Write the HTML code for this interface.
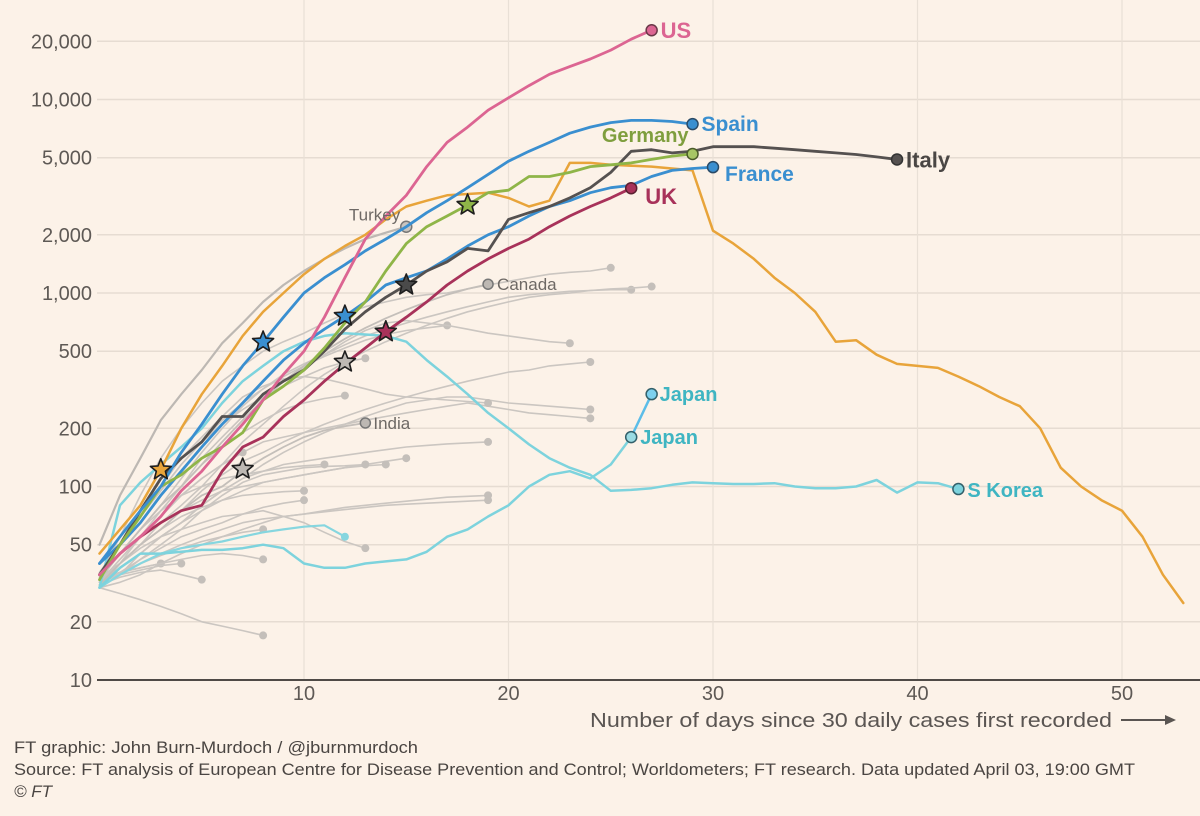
<!DOCTYPE html>
<html><head><meta charset="utf-8">
<style>
html,body{margin:0;padding:0;background:#fcf2e8;}
svg{display:block;font-family:"Liberation Sans",sans-serif;}
</style></head>
<body>
<svg id="chart" width="1200" height="816" viewBox="0 0 1200 816">
<rect x="0" y="0" width="1200" height="816" fill="#fcf2e8"/>
<g id="grid"></g>
<g id="gray"></g>
<g id="main"></g>
<g id="stars"></g>
<g id="labels"></g>
<g id="axes"></g>
<text x="590" y="727" font-size="20" fill="#5a5552" textLength="522" lengthAdjust="spacingAndGlyphs">Number of days since 30 daily cases first recorded</text>
<line x1="1121" y1="720" x2="1165" y2="720" stroke="#5a5552" stroke-width="2"/>
<polygon points="1165,715 1176,720 1165,725" fill="#5a5552"/>
<text x="14" y="753" font-size="17" fill="#4a4542" textLength="404" lengthAdjust="spacingAndGlyphs">FT graphic: John Burn-Murdoch / @jburnmurdoch</text>
<text x="14" y="775" font-size="17" fill="#4a4542" textLength="1121" lengthAdjust="spacingAndGlyphs">Source: FT analysis of European Centre for Disease Prevention and Control; Worldometers; FT research. Data updated April 03, 19:00 GMT</text>
<text x="14" y="797" font-size="17" font-style="italic" fill="#4a4542">© FT</text>
</svg>
<script>
const xTicks = [10,20,30,40,50];
const yTicks = [10,20,50,100,200,500,1000,2000,5000,10000,20000];
const yTickLabels = ["10","20","50","100","200","500","1,000","2,000","5,000","10,000","20,000"];

const us = [35,45,55,70,95,120,160,210,280,380,500,750,1200,1900,2500,3200,4500,6000,7200,8800,10200,11800,13500,14800,16200,18000,20500,22800];
const spain = [40,55,75,100,150,210,300,420,558,750,1000,1200,1400,1650,1900,2200,2600,3000,3500,4100,4800,5400,6000,6700,7200,7600,7800,7800,7700,7460];
const italy = [35,50,75,110,140,170,230,230,300,350,400,500,650,800,950,1100,1300,1450,1700,1650,2400,2600,2800,3100,3500,4200,5400,5500,5300,5400,5700,5700,5700,5600,5500,5400,5300,5200,5050,4900];
const germany = [33,50,70,100,115,140,160,190,280,330,400,520,700,900,1300,1800,2200,2500,2850,3300,3400,4000,4000,4200,4500,4600,4700,4900,5100,5230];
const france = [40,50,65,90,120,160,210,270,350,450,550,650,760,900,1100,1200,1300,1500,1750,2000,2200,2500,2800,3000,3300,3500,3600,4000,4300,4400,4470];
const uk = [35,45,55,65,75,80,120,160,180,230,280,350,430,520,630,750,900,1100,1300,1500,1700,1900,2200,2500,2800,3100,3480];
const china = [45,60,80,122,200,300,420,600,800,1000,1250,1500,1750,2000,2400,2800,3000,3200,3250,3300,3100,2800,3000,4700,4700,4600,4550,4500,4400,4300,2100,1800,1500,1200,1000,800,560,570,480,430,420,410,370,330,290,260,200,125,100,85,75,55,35,25];
const skorea = [30,80,105,130,160,200,270,350,420,500,560,600,620,610,600,560,450,370,300,240,200,165,140,125,115,95,96,98,102,105,104,103,103,104,100,98,98,100,108,93,105,104,97];
const japan = [30,38,45,45,46,47,47,48,50,48,40,38,38,40,41,42,46,55,60,70,80,100,115,120,110,130,180];
const japanNew = [180,300];
const singapore = [30,35,40,45,48,50,52,55,58,60,62,63,55];
const turkey = [50,90,140,220,300,400,550,700,900,1100,1300,1500,1700,1900,2050,2200];
const grayLabels = ["Canada","India"];
const canada = [33,45,60,80,100,130,170,220,280,350,420,500,580,660,740,820,900,980,1050,1110];
const india = [31,40,50,60,75,90,100,120,140,160,180,195,205,213];
const others = [
 [35,55,90,140,200,270,350,420,500,560,620,700,780,850,900,950,980,1000,1050,1100,1150,1200,1250,1280,1300,1350],
 [32,40,55,75,100,140,180,230,290,350,410,480,540,600,650,700,750,800,850,900,950,980,1000,1020,1030,1040,1040],
 [30,40,50,65,80,100,130,170,210,260,320,380,440,500,560,620,680,740,800,850,900,950,980,1000,1030,1050,1060,1080],
 [36,50,70,95,130,170,220,270,320,370,420,470,520,570,610,640,660,680],
 [34,45,60,80,110,150,200,260,320,380,430,480,560,640,700,720,700,680,650,620,600,580,560,550],
 [33,40,50,60,75,95,115,135,150,170,190,210,230,250,270,290,310,330,350,370,390,400,420,430,440],
 [30,38,45,55,65,80,95,110,130,150,170,190,210,230,250,270,280,290,290,280,270,265,260,255,250],
 [32,42,55,70,90,110,130,150,170,180,190,200,210,220,230,240,250,260,270,260,250,240,235,230,225],
 [30,35,45,55,65,80,95,110,120,130,135,140,145,150,155,160,163,166,168,170],
 [35,50,70,100,140,180,230,290,330,360,370,360,340,320,300,290,285,280,275,270],
 [30,32,35,40,45,50,55,60,65,70,72,75,78,80,82,84,86,88,89,90],
 [33,36,40,45,50,55,60,65,68,70,72,74,76,78,80,81,82,83,84,85],
 [34,45,55,65,75,85,95,100,105,110,115,120,125,130,135,140],
 [32,38,45,55,65,75,85,95,105,110,115,120,125,128,130],
 [30,35,42,50,60,75,90,105,115,120,125,127,128,130],
 [35,45,60,75,90,100,110,115,120,125,128,130],
 [33,45,60,80,100,130,160,190,220,250,270,285,295],
 [30,40,50,60,70,78,85,90,92,94,95],
 [31,36,42,48,55,60,65,72,78,82,85],
 [30,35,40,44,48,52,55,58,60],
 [34,40,48,55,60,65,70,72,75,70,65,58,52,48],
 [33,36,38,40],
 [32,35,37,39,40],
 [31,34,36,37,35,33],
 [33,36,38,40,42,44,45,44,42],
 [30,28,26,24,22,20,19,18,17],
 [35,50,70,95,130,170,210,250,290,330,370,410,440,460],
 [32,42,55,70,90,110,130,150]
];
const starDays = [3,8,12,15,18,14,12,7];
const starValues = [122,558,760,1100,2850,630,440,123];
const starColors = ["#e8a43a","#3a8fd0","#3a8fd0","#4a4a4a","#8fb548","#a8325a","#bdb8b3","#bdb8b3"];

const NS = "http://www.w3.org/2000/svg";
function xs(d){ return 99.5 + 20.45*d; }
function ys(v){ return 680 - 193.5*Math.log10(v/10); }
function mk(tag, attrs, parent){
  const e = document.createElementNS(NS, tag);
  for (const k in attrs) e.setAttribute(k, attrs[k]);
  parent.appendChild(e); return e;
}
const grid = document.getElementById('grid');
const axes = document.getElementById('axes');
yTicks.forEach((t,i)=>{
  if (i>0){
    const l = mk('line',{x1:97,x2:1200,y1:ys(t),y2:ys(t),stroke:'#e6dcd2','stroke-width':1.5},grid);
    
    
  }
  const tx = mk('text',{x:92,y:ys(t)+7,'text-anchor':'end','font-size':20,fill:'#5e5955'},axes);
  tx.textContent = yTickLabels[i];
  
  
});
xTicks.forEach(t=>{
  const l = mk('line',{x1:xs(t),x2:xs(t),y1:0,y2:680,stroke:'#e9e0d6','stroke-width':1.2},grid);
  
  
  const tx = mk('text',{x:xs(t),y:700,'text-anchor':'middle','font-size':20,fill:'#5e5955'},axes);
  tx.textContent = t;
  
  
});
const ax = mk('line',{x1:97,x2:1200,y1:680,y2:680,stroke:'#4f4a46','stroke-width':2},axes);



function pts(arr, start){ return arr.map((v,i)=>xs(i+start).toFixed(1)+','+ys(v).toFixed(1)).join(' '); }
function drawLine(parent, arr, color, width, name, start){
  start = start||0;
  const p = mk('polyline',{points:pts(arr,start),fill:'none',stroke:color,'stroke-width':width,'stroke-linejoin':'round','stroke-linecap':'round'},parent);
  
  
  return p;
}
function drawDot(parent, d, v, color, r, stroke, name){
  const c = mk('circle',{cx:xs(d),cy:ys(v),r:r,fill:color,stroke:stroke,'stroke-width':1.5},parent);
  
  
  return c;
}
const gray = document.getElementById('gray');
others.forEach(arr=>{
  drawLine(gray, arr, '#cbc6c1', 1.6, 'other-country-line');
  drawDot(gray, arr.length-1, arr[arr.length-1], '#c4bfba', 4, 'none', 'other-country-end');
});
drawLine(gray, canada, '#c4bfba', 1.8, 'canada-line');
drawDot(gray, canada.length-1, canada[canada.length-1], '#bdb8b3', 5, '#777', 'canada-end');
drawLine(gray, india, '#c4bfba', 1.8, 'india-line');
drawDot(gray, india.length-1, india[india.length-1], '#bdb8b3', 5, '#777', 'india-end');
drawLine(gray, turkey, '#bdb8b3', 2.2, 'turkey-line');
drawDot(gray, turkey.length-1, turkey[turkey.length-1], '#c9c4bf', 5.5, '#777', 'turkey-end');

const main = document.getElementById('main');
drawLine(main, singapore, '#86d6df', 2.2, 'singapore-line');
drawDot(main, singapore.length-1, singapore[singapore.length-1], '#86d6df', 4, 'none', 'singapore-end');
drawLine(main, japan, '#7dd3dd', 2.5, 'japan-line');
drawLine(main, japanNew, '#5cbde8', 2.5, 'japan-new-line', 26);
drawLine(main, skorea, '#7dd3dd', 2.5, 'south-korea-line');
drawLine(main, china, '#e8a43a', 2.5, 'china-line');
drawLine(main, uk, '#a8325a', 2.8, 'uk-line');
drawLine(main, france, '#3a8fd0', 2.8, 'france-line');
drawLine(main, italy, '#555150', 2.8, 'italy-line');
drawLine(main, germany, '#8fb548', 2.8, 'germany-line');
drawLine(main, spain, '#3a8fd0', 2.8, 'spain-line');
drawLine(main, us, '#dc6592', 2.8, 'us-line');

drawDot(main, us.length-1, us[us.length-1], '#dc6592', 5.5, '#6a3848', 'us-end');
drawDot(main, spain.length-1, spain[spain.length-1], '#3a8fd0', 5.5, '#2a4a66', 'spain-end');
drawDot(main, germany.length-1, germany[germany.length-1], '#a7c665', 5.5, '#4a5a2a', 'germany-end');
drawDot(main, italy.length-1, italy[italy.length-1], '#555150', 5.5, '#333', 'italy-end');
drawDot(main, france.length-1, france[france.length-1], '#3a8fd0', 5.5, '#2a4a66', 'france-end');
drawDot(main, uk.length-1, uk[uk.length-1], '#a8325a', 5.5, '#5a2030', 'uk-end');
drawDot(main, 27, japanNew[1], '#7dd0ee', 5.5, '#33606a', 'japan-new-end');
drawDot(main, japan.length-1, japan[japan.length-1], '#9adbe3', 5.5, '#33606a', 'japan-end');
drawDot(main, skorea.length-1, skorea[skorea.length-1], '#7dd3dd', 5.5, '#33606a', 'south-korea-end');

const stars = document.getElementById('stars');
function starPts(cx,cy,R,r){
  const a=[]; for(let i=0;i<10;i++){const rad=i%2?r:R; const ang=-Math.PI/2+i*Math.PI/5; a.push((cx+rad*Math.cos(ang)).toFixed(1)+','+(cy+rad*Math.sin(ang)).toFixed(1));} return a.join(' ');
}
starDays.forEach((d,i)=>{
  const s = mk('polygon',{points:starPts(xs(d),ys(starValues[i]),11,4.8),fill:starColors[i],stroke:'#1e1e1e','stroke-width':1.6,'stroke-linejoin':'round'},stars);
  
  
});

const labels = document.getElementById('labels');
function label(txt, d, v, dx, dy, color, size, weight, name, anchor){
  const t = mk('text',{x:xs(d)+dx,y:ys(v)+dy,fill:color,'font-size':size,'font-weight':weight,'text-anchor':anchor||'start'},labels);
  t.textContent = txt;
  
  
}
label('US', us.length-1, us[us.length-1], 9, 8, '#dc6592', 22, 'bold', 'us-label');
label('Spain', spain.length-1, spain[spain.length-1], 9, 7, '#3a8fd0', 21, 'bold', 'spain-label');
label('Germany', germany.length-1, germany[germany.length-1], -4, -12, '#7f9e3e', 20, 'bold', 'germany-label', 'end');
label('Italy', italy.length-1, italy[italy.length-1], 9, 8, '#4a4644', 22, 'bold', 'italy-label');
label('France', france.length-1, france[france.length-1], 12, 14, '#3a8fd0', 21, 'bold', 'france-label');
label('UK', uk.length-1, uk[uk.length-1], 14, 16, '#a8325a', 22, 'bold', 'uk-label');
label('Turkey', turkey.length-1, turkey[turkey.length-1], -6, -6, '#6e6965', 17, 'normal', 'turkey-label', 'end');
label(grayLabels[0], canada.length-1, canada[canada.length-1], 9, 6, '#6e6965', 17, 'normal', 'canada-label');
label(grayLabels[1], india.length-1, india[india.length-1], 8, 6, '#6e6965', 17, 'normal', 'india-label');
label('Japan', 27, japanNew[1], 8, 7, '#3fb5c2', 20, 'bold', 'japan-new-label');
label('Japan', japan.length-1, japan[japan.length-1], 9, 7, '#3fb5c2', 20, 'bold', 'japan-label');
label('S Korea', skorea.length-1, skorea[skorea.length-1], 9, 8, '#3fb5c2', 20, 'bold', 's-korea-label');
</script>
</body></html>
